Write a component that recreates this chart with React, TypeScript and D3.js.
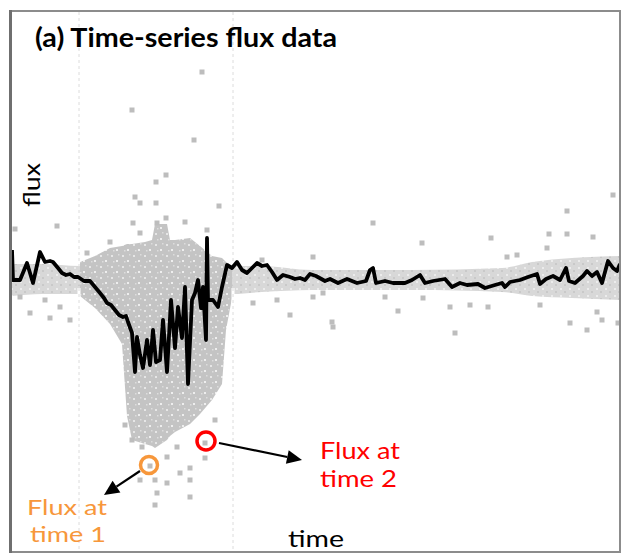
import React from "react";
import * as d3 from "d3";

// black line: [time, flux]
const lineTime = [0,0.5,4,7.5,10.5,14,16.5,19,20.5,23,25,27,29,31,33,36,39,41.5,44,46,47.5,49.5,51.5,53.5,55.5,57,58,60,61.5,62.5,64,65.5,67.5,69,70.5,72,74,75.5,77.5,79.5,81.5,83,85,86.5,88,90,91.5,93,94.5,95.5,97,97.5,98,100.5,103,105,107.5,110,112.5,115,117.5,120,122.5,125,127.5,130,132.5,135.5,139,141.5,144,146.5,149,152,156.5,159,163,167.5,172.5,177,179,180.5,182,186.5,190.5,196.5,200,204,206.5,210.5,216.5,220,224,227.5,233,236.5,241.5,245,246.5,249,254,258,262.5,264,267,270.5,274,277,278.5,281.5,285.5,287.5,290,292.5,295,298,300.5,302.5,304];
const lineFlux = [1.075,1.0,1.0,1.0425,0.9925,1.07,1.045,1.0475,1.045,1.03,1.0175,1.0125,1.015,1.0075,1.0075,0.9975,0.9975,0.9825,0.9675,0.955,0.9425,0.9375,0.925,0.9125,0.9075,0.91,0.895,0.8675,0.77,0.8575,0.8125,0.78,0.85,0.7875,0.875,0.795,0.8,0.9,0.77,0.95,0.83,0.9325,0.855,0.9825,0.74,0.95,0.9675,1.0,0.93,0.9825,0.85,1.105,0.95,0.95,0.9325,0.9825,1.0375,1.03,1.045,1.025,1.0175,1.03,1.0425,1.035,1.0375,1.02,1.0,1.0125,1.0075,1.0025,1.005,1.0,1.015,1.01,0.9975,1.0025,0.9925,1.0025,0.9925,0.9975,1.025,1.03,0.9925,0.9975,0.9925,0.9925,1.0,1.0125,0.9925,0.9975,1.0025,0.9825,0.9925,0.9875,0.99,0.98,0.9875,0.9925,0.9825,0.995,1.0,1.0075,1.015,0.99,1.0025,1.01,1.0,1.03,0.9975,0.9925,1.01,1.0225,1.01,1.02,0.9925,1.0475,1.03,1.0225,1.04];

// dense grey cloud during the dip: [time, upper flux, lower flux]
const cloudTime = [34,41.5,49,55,57.5,60,66.5,70,71.5,77.5,79,81.5,89,94,100,105,107,110];
const cloudUpper = [1.045,1.06,1.08,1.085,1.09,1.09,1.095,1.1,1.14,1.14,1.1,1.1,1.105,1.085,1.06,1.055,1.045,1.035];
const cloudLower = [0.96,0.93,0.89,0.84,0.66,0.6,0.59,0.585,0.58,0.6,0.61,0.62,0.64,0.665,0.7,0.74,0.875,0.955];

// light grey scatter band around the quiet light curve
const bandTime = [0,15,34,110,125,150,200,245,260,280,304];
const bandUpper = [1.04,1.04,1.035,1.035,1.035,1.025,1.025,1.03,1.045,1.055,1.06];
const bandLower = [0.96,0.965,0.965,0.965,0.97,0.975,0.975,0.97,0.96,0.955,0.95];

// scattered individual flux samples
const pointTime = [95,60,91,77,72,61.5,64,72,103.5,60.5,72.5,77,86.5,64,97.5,22.5,49,1.5,37.5,4,24,9,16.5,29,19,180.5,205,150.5,239.5,277.5,300.5,268.5,277.5,290.5,247.5,252.5,267.5,193,221.5,160,160.5,219,229,238,279,287.5,292.5,295,303,264,150.5,155.5,186.5,205.5,120.5,132.5,139,125,60,65,69,64,71.5,77.5,72.5,84,89,89,89,96.5,96.5,77.5,82.5,71.5,56.5,101.5];
const pointFlux = [1.52,1.425,1.35,1.2625,1.245,1.2075,1.1925,1.1925,1.185,1.1425,1.1425,1.155,1.145,1.1175,1.125,1.135,1.095,1.1275,1.0675,0.9575,0.9325,0.9175,0.95,0.9,0.905,1.1425,1.0925,1.0575,1.105,1.1725,1.2125,1.115,1.115,1.1075,1.0575,1.0625,1.08,0.9225,0.8675,0.895,0.8825,0.9325,0.9375,0.9325,0.8925,0.875,0.92,0.9,0.8925,0.9375,0.9575,0.9675,0.9575,0.955,0.9425,0.95,0.9125,1.05,0.6,0.5825,0.535,0.5,0.5,0.4925,0.4675,0.5175,0.53,0.5,0.4575,0.5925,0.555,0.5575,0.5825,0.4375,0.6375,0.65];

// highlighted samples
const time1 = [68.5, 0.5375];
const time2 = [97, 0.5975];

const W = 623, H = 554;
const X0 = 12, X1 = 620, Y0 = 12, Y1 = 552;

export default function App() {
  const x = d3.scaleLinear().domain([0, 304]).range([X0, X1]);
  const y = d3.scaleLinear().domain([0.32, 1.67]).range([Y1, Y0]);

  const linePts = lineTime.map((t, i) => [t, lineFlux[i]] as [number, number]);
  const line = d3.line<[number, number]>().x(d => x(d[0])).y(d => y(d[1]));

  const cloud = d3.area<number>()
    .x(i => x(cloudTime[i])).y0(i => y(cloudLower[i])).y1(i => y(cloudUpper[i]));
  const band = d3.area<number>()
    .x(i => x(bandTime[i])).y0(i => y(bandLower[i])).y1(i => y(bandUpper[i]))
    .curve(d3.curveMonotoneX);

  const gapX = [x(33.5), x(110.5)];

  const o = [x(time1[0]), y(time1[1])];
  const r = [x(time2[0]), y(time2[1])];

  const arrow = (x1: number, y1: number, x2: number, y2: number) => {
    const a = Math.atan2(y2 - y1, x2 - x1);
    const L = 15, Wd = 7;
    const bx = x2 - L * Math.cos(a), by = y2 - L * Math.sin(a);
    const p1 = [bx + Wd * Math.sin(a), by - Wd * Math.cos(a)];
    const p2 = [bx - Wd * Math.sin(a), by + Wd * Math.cos(a)];
    return (
      <g>
        <line x1={x1} y1={y1} x2={bx} y2={by} stroke="#000" strokeWidth={2.2} />
        <polygon points={`${x2},${y2} ${p1[0]},${p1[1]} ${p2[0]},${p2[1]}`} fill="#000" />
      </g>
    );
  };

  const font = "Lato, 'Open Sans', sans-serif";

  return (
    <svg width={W} height={H} style={{ position: "absolute", left: 0, top: 0, background: "#fff" }}>
      <defs>
        <clipPath id="plot"><rect x={X0} y={Y0} width={X1 - X0} height={Y1 - Y0} /></clipPath>
        <pattern id="speck" width={11} height={11} patternUnits="userSpaceOnUse">
          <rect width={11} height={11} fill="#c4c4c4" />
          <rect x={1} y={2} width={2} height={2} fill="#e6e6e6" />
          <rect x={6} y={7} width={2} height={2} fill="#eeeeee" />
          <rect x={8} y={1} width={1.5} height={1.5} fill="#dcdcdc" />
          <rect x={3} y={8} width={1.5} height={1.5} fill="#dddddd" />
        </pattern>
        <pattern id="speckLight" width={9} height={7} patternUnits="userSpaceOnUse">
          <rect width={9} height={7} fill="#d8d8d8" />
          <rect x={2} y={1} width={2} height={2} fill="#ececec" />
          <rect x={6} y={4} width={2} height={2} fill="#c9c9c9" />
        </pattern>
      </defs>
      <rect x={0} y={0} width={W} height={H} fill="#fff" />
      <g clipPath="url(#plot)">
        <path d={band(d3.range(bandTime.length)) || ""} fill="url(#speckLight)" />
        <path d={cloud(d3.range(cloudTime.length)) || ""} fill="url(#speck)" />
        {pointTime.map((t, i) => (
          <rect key={i} x={x(t) - 2.5} y={y(pointFlux[i]) - 2.5} width={5} height={5} fill="#bdbdbd" />
        ))}
        {gapX.map((gx, i) => (
          <g key={i}>
            <rect x={gx - 1.5} y={y(0.98)} width={3} height={Y1 - y(0.98)} fill="#fff" />
            <line x1={gx} x2={gx} y1={Y0} y2={Y1} stroke="#dcdcdc" strokeWidth={1} strokeDasharray="3,3" />
          </g>
        ))}
        <path d={line(linePts) || ""} fill="none" stroke="#000" strokeWidth={3.8} strokeLinejoin="round" />
      </g>
      {/* frame */}
      <rect x={11} y={11} width={609} height={541} fill="none" stroke="#8c8c8c" strokeWidth={2} />
      <line x1={10.5} x2={10.5} y1={10} y2={553} stroke="#6f6f6f" strokeWidth={3} />

      <text x={35} y={47} fontFamily={font} fontWeight={700} fontSize={27} textLength={302} lengthAdjust="spacingAndGlyphs" fill="#000">(a) Time-series flux data</text>
      <text transform="translate(40,207) rotate(-90)" fontFamily={font} fontSize={23} textLength={44} lengthAdjust="spacingAndGlyphs" fill="#000">flux</text>
      <text x={288} y={547} fontFamily={font} fontSize={24} textLength={56} lengthAdjust="spacingAndGlyphs" fill="#000">time</text>

      <circle cx={o[0]} cy={o[1]} r={8.5} fill="none" stroke="#f7973b" strokeWidth={3.5} />
      <circle cx={r[0]} cy={r[1]} r={9} fill="none" stroke="#ff0000" strokeWidth={3.5} />
      {arrow(o[0] - 9, o[1] + 6, 104, 495)}
      {arrow(r[0] + 13, r[1] + 2, 302, 460)}

      <text x={27} y={515} fontFamily={font} fontSize={22} textLength={80} lengthAdjust="spacingAndGlyphs" fill="#f7973b">Flux at</text>
      <text x={30} y={542} fontFamily={font} fontSize={22} textLength={76} lengthAdjust="spacingAndGlyphs" fill="#f7973b">time 1</text>
      <text x={320} y={459} fontFamily={font} fontSize={24} textLength={80} lengthAdjust="spacingAndGlyphs" fill="#ff0000">Flux at</text>
      <text x={320} y={487} fontFamily={font} fontSize={24} textLength={77} lengthAdjust="spacingAndGlyphs" fill="#ff0000">time 2</text>
    </svg>
  );
}
